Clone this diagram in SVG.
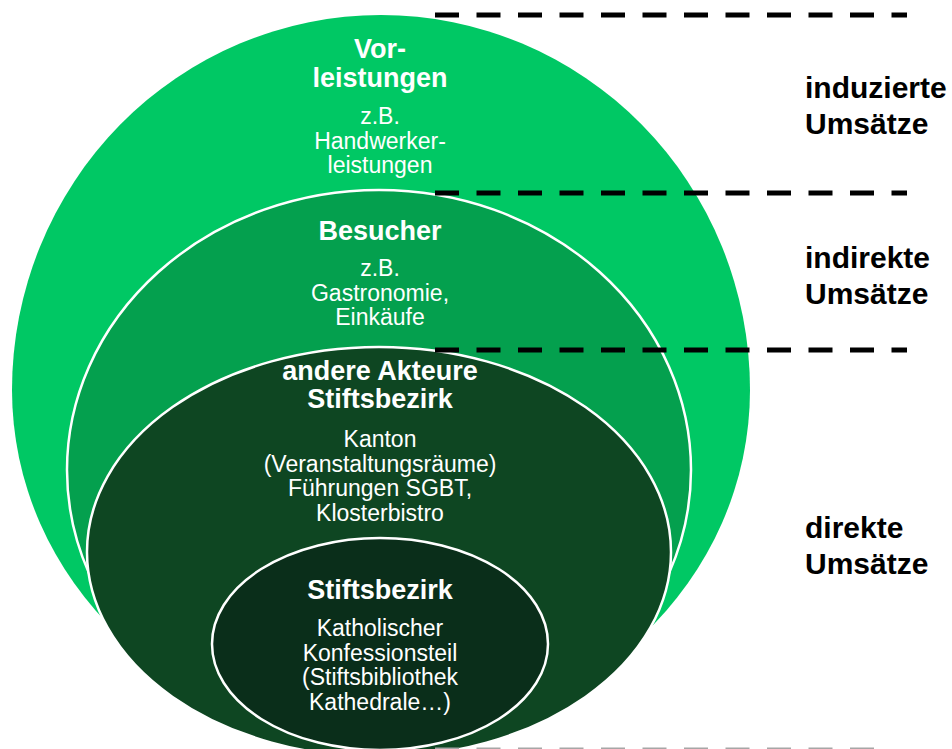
<svg xmlns="http://www.w3.org/2000/svg" width="952" height="749" viewBox="0 0 952 749">
<style>
.t{font-family:"Liberation Sans",Arial,sans-serif;fill:#fff;text-anchor:middle}
.b{font-weight:bold;font-size:27px}
.r{font-size:23px}
.lab{font-family:"Liberation Sans",Arial,sans-serif;font-weight:bold;font-size:30px;fill:#000}
.ring{stroke:#fff;stroke-width:2.5}
.dash{stroke:#000;stroke-width:5;stroke-dasharray:24 17.5;fill:none}
.gdash{stroke:#a6a6a6;stroke-width:5;stroke-dasharray:24 17.5;fill:none}
</style>
<rect width="952" height="749" fill="#fff"/>
<g id="vorleistungen">
<path d="M12,390 A369,375 0 0 1 750,390 A369,348 0 0 1 12,390 Z" fill="#00c864"/>
<text class="t b" x="380" y="58">Vor-</text>
<text class="t b" x="380" y="87">leistungen</text>
<text class="t r" x="380" y="124">z.B.</text>
<text class="t r" x="380" y="148.5">Handwerker-</text>
<text class="t r" x="380" y="173">leistungen</text>
</g>
<g id="besucher">
<ellipse class="ring" cx="379" cy="470" rx="312" ry="280" fill="#04a04e"/>
<text class="t b" x="380" y="240">Besucher</text>
<text class="t r" x="380" y="276">z.B.</text>
<text class="t r" x="380" y="300.5">Gastronomie,</text>
<text class="t r" x="380" y="325">Einkäufe</text>
</g>
<g id="andere-akteure">
<ellipse class="ring" cx="379" cy="552" rx="292" ry="205" fill="#0e4622"/>
<text class="t b" x="380" y="380">andere Akteure</text>
<text class="t b" x="380" y="408">Stiftsbezirk</text>
<text class="t r" x="380" y="447">Kanton</text>
<text class="t r" x="380" y="471.5">(Veranstaltungsräume)</text>
<text class="t r" x="380" y="496">Führungen SGBT,</text>
<text class="t r" x="380" y="520.5">Klosterbistro</text>
</g>
<g id="stiftsbezirk">
<ellipse class="ring" cx="380" cy="644" rx="168" ry="106" fill="#0a2e1a"/>
<text class="t b" x="380" y="599">Stiftsbezirk</text>
<text class="t r" x="380" y="636">Katholischer</text>
<text class="t r" x="380" y="660.5">Konfessionsteil</text>
<text class="t r" x="380" y="685">(Stiftsbibliothek</text>
<text class="t r" x="380" y="709.5">Kathedrale…)</text>
</g>
<g id="connectors">
<line class="dash" x1="435" y1="15" x2="907" y2="15"/>
<line class="dash" x1="435" y1="193" x2="907" y2="193"/>
<line class="dash" x1="435" y1="350" x2="907" y2="350"/>
<line class="gdash" x1="435" y1="750" x2="890" y2="750"/>
</g>
<g id="labels">
<text class="lab" x="805" y="98">induzierte</text>
<text class="lab" x="805" y="134">Umsätze</text>
<text class="lab" x="805" y="268">indirekte</text>
<text class="lab" x="805" y="304">Umsätze</text>
<text class="lab" x="805" y="538">direkte</text>
<text class="lab" x="805" y="574">Umsätze</text>
</g>
</svg>
